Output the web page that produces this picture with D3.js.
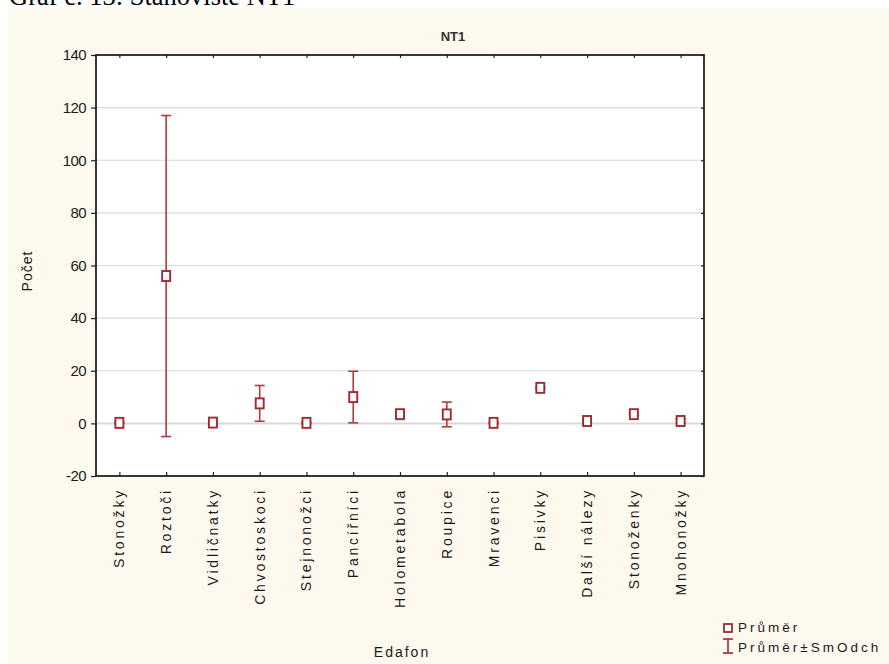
<!DOCTYPE html>
<html>
<head>
<meta charset="utf-8">
<script src="https://cdn.jsdelivr.net/npm/d3@7/dist/d3.min.js"></script>
<style>
  html, body { margin: 0; padding: 0; background: #ffffff; }
  svg { display: block; }
  text { font-family: "Liberation Sans", Arial, sans-serif; fill: #1a1a1a; }
</style>
</head>
<body>
<svg id="chart" width="889" height="664"></svg>
<script>
// Edafon groups at site NT1: mean count and standard deviation
const categories = ["Stonožky", "Roztoči", "Vidličnatky", "Chvostoskoci", "Stejnonožci",
  "Pancířníci", "Holometabola", "Roupice", "Mravenci", "Pisivky", "Další nálezy",
  "Stonoženky", "Mnohonožky"];
const means = [0.2, 56, 0.3, 7.6, 0.2, 10, 3.5, 3.4, 0.2, 13.5, 0.9, 3.5, 0.9];
const sds   = [0.3, 61, 0.4, 6.8, 0.3, 9.8, 0.5, 4.7, 0.2, 0.3, 0.8, 0.4, 0.8];
const yTicks = [-20, 0, 20, 40, 60, 80, 100, 120, 140];

const data = categories.map((c, i) => ({ cat: c, mean: means[i], sd: sds[i] }));

const svg = d3.select("#chart");
const W = 889, H = 664;
const plot = { left: 96, right: 704, top: 55, bottom: 476 };
const markColor = "#a3282f";

// panel background
svg.append("rect").attr("x", 8).attr("y", 9).attr("width", W - 8).attr("height", H - 9)
  .attr("fill", "#fef9ee");

// caption above panel (partly clipped by the page edge)
svg.append("text").attr("x", 9).attr("y", 5)
  .style("font-family", "'Liberation Serif', 'Times New Roman', serif")
  .style("font-size", "26.5px").style("fill", "#000")
  .text("Graf č. 13: Stanoviště NT1");

const x = d3.scalePoint().domain(categories)
  .range([plot.left, plot.right]).padding(0.5);
const y = d3.scaleLinear().domain([-20, 140]).range([plot.bottom, plot.top]);

// plot area
svg.append("rect").attr("x", plot.left).attr("y", plot.top)
  .attr("width", plot.right - plot.left).attr("height", plot.bottom - plot.top)
  .attr("fill", "#ffffff");

// horizontal grid
svg.append("g").selectAll("line").data(yTicks.filter(t => t > -20 && t < 140)).join("line")
  .attr("x1", plot.left).attr("x2", plot.right)
  .attr("y1", d => y(d)).attr("y2", d => y(d))
  .attr("stroke", "#d9d9d9").attr("stroke-width", d => d === 0 ? 2 : 1.2);

// left axis
const yAxis = svg.append("g").attr("transform", `translate(${plot.left},0)`)
  .call(d3.axisLeft(y).tickValues(yTicks).tickSize(5).tickPadding(5).tickFormat(d => String(d)));
yAxis.select(".domain").remove();
yAxis.selectAll("line").attr("stroke", "#222").attr("stroke-width", 1.2);
yAxis.selectAll("text").style("font-size", "15px").style("letter-spacing", "-0.6px")
  .style("fill", "#1a1a1a");

// right axis ticks (inside)
svg.append("g").attr("transform", `translate(${plot.right},0)`)
  .call(d3.axisLeft(y).tickValues(yTicks).tickSize(3).tickFormat(""))
  .call(g => g.select(".domain").remove())
  .selectAll("line").attr("stroke", "#222").attr("stroke-width", 1.2);

// bottom axis ticks (inside) with rotated labels
const xAxis = svg.append("g").attr("transform", `translate(0,${plot.bottom})`)
  .call(d3.axisTop(x).tickSize(4).tickFormat(""));
xAxis.select(".domain").remove();
xAxis.selectAll("line").attr("stroke", "#222").attr("stroke-width", 1.2);

svg.append("g").selectAll("text").data(categories).join("text")
  .attr("transform", d => `translate(${x(d) + 5},${plot.bottom + 12}) rotate(-90)`)
  .attr("text-anchor", "end")
  .style("font-size", "14px")
  .style("letter-spacing", "2.8px")
  .text(d => d);

// top axis ticks (inside)
svg.append("g").attr("transform", `translate(0,${plot.top})`)
  .call(d3.axisBottom(x).tickSize(3).tickFormat(""))
  .call(g => g.select(".domain").remove())
  .selectAll("line").attr("stroke", "#222").attr("stroke-width", 1.2);

// frame
svg.append("rect").attr("x", plot.left).attr("y", plot.top)
  .attr("width", plot.right - plot.left).attr("height", plot.bottom - plot.top)
  .attr("fill", "none").attr("stroke", "#222").attr("stroke-width", 1.8);

// error bars: mean ± SD
const cap = 5;
const eb = svg.append("g").attr("stroke", "#b0393f").attr("stroke-width", 1.6);
data.forEach(d => {
  const cx = x(d.cat), y1 = y(d.mean + d.sd), y2 = y(d.mean - d.sd);
  eb.append("line").attr("x1", cx).attr("x2", cx).attr("y1", y1).attr("y2", y2);
  eb.append("line").attr("x1", cx - cap).attr("x2", cx + cap).attr("y1", y1).attr("y2", y1);
  eb.append("line").attr("x1", cx - cap).attr("x2", cx + cap).attr("y1", y2).attr("y2", y2);
});

// mean markers
svg.append("g").selectAll("rect").data(data).join("rect")
  .attr("x", d => x(d.cat) - 4).attr("y", d => y(d.mean) - 5)
  .attr("width", 8).attr("height", 10)
  .attr("fill", "#ffffff").attr("stroke", markColor).attr("stroke-width", 1.9);

// titles
svg.append("text").attr("x", 453).attr("y", 41).attr("text-anchor", "middle")
  .style("font-size", "13px").style("font-weight", "bold").style("fill", "#333")
  .text("NT1");
svg.append("text").attr("transform", "translate(32,271) rotate(-90)")
  .attr("text-anchor", "middle").style("font-size", "14px").style("letter-spacing", "1px")
  .text("Počet");
svg.append("text").attr("x", 402).attr("y", 657).attr("text-anchor", "middle")
  .style("font-size", "14px").style("letter-spacing", "2px").text("Edafon");

// legend
const lg = svg.append("g").attr("transform", "translate(723,0)");
lg.append("rect").attr("x", 1).attr("y", 624).attr("width", 8).attr("height", 8)
  .attr("fill", "#fff").attr("stroke", markColor).attr("stroke-width", 1.8);
lg.append("text").attr("x", 15).attr("y", 632).style("font-size", "13.5px")
  .style("letter-spacing", "3px").text("Průměr");
lg.append("line").attr("x1", 5).attr("x2", 5).attr("y1", 639).attr("y2", 653)
  .attr("stroke", markColor).attr("stroke-width", 1.6);
lg.append("line").attr("x1", 0).attr("x2", 10).attr("y1", 639).attr("y2", 639)
  .attr("stroke", markColor).attr("stroke-width", 1.6);
lg.append("line").attr("x1", 0).attr("x2", 10).attr("y1", 653).attr("y2", 653)
  .attr("stroke", markColor).attr("stroke-width", 1.6);
lg.append("text").attr("x", 15).attr("y", 652).style("font-size", "13.5px")
  .style("letter-spacing", "3px").text("Průměr±SmOdch");
</script>
</body>
</html>
